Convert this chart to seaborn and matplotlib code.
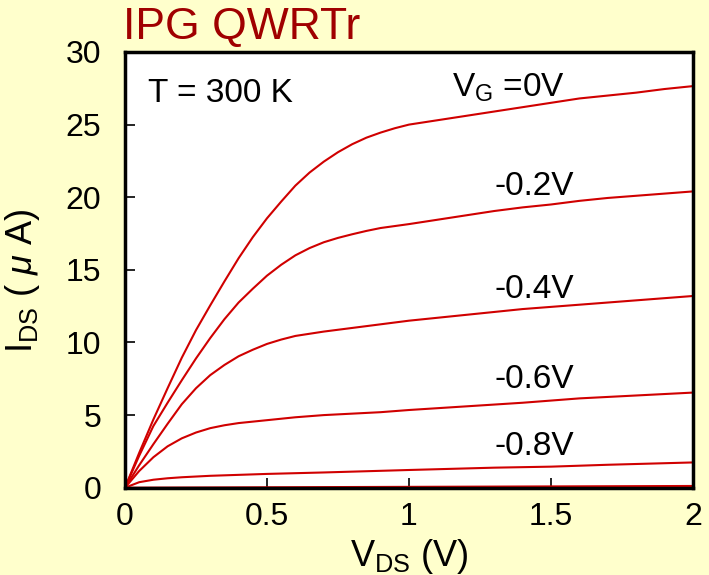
import matplotlib
matplotlib.use("Agg")
import matplotlib.pyplot as plt
import matplotlib.ticker as mticker
import pandas as pd
import seaborn as sns

# I-V curves (VDS in V, IDS in uA)
vds_0 = [0, 0.05, 0.1, 0.15, 0.2, 0.25, 0.3, 0.35, 0.4, 0.45, 0.5, 0.55, 0.6, 0.65, 0.7,
         0.75, 0.8, 0.85, 0.9, 0.95, 1.0, 1.1, 1.2, 1.3, 1.4, 1.5, 1.6, 1.7, 1.8, 1.9, 2.0]
ids_0 = [0, 2.4, 4.7, 6.85, 8.95, 10.85, 12.55, 14.2, 15.8, 17.25, 18.55, 19.7, 20.8, 21.7, 22.45,
         23.1, 23.65, 24.1, 24.45, 24.75, 25.0, 25.3, 25.6, 25.9, 26.2, 26.5, 26.8, 27.0, 27.2, 27.45, 27.65]

vds_02 = [0, 0.05, 0.1, 0.15, 0.2, 0.25, 0.3, 0.35, 0.4, 0.45, 0.5, 0.55, 0.6, 0.65, 0.7,
          0.75, 0.8, 0.85, 0.9, 1.0, 1.1, 1.2, 1.3, 1.4, 1.5, 1.6, 1.7, 1.8, 1.9, 2.0]
ids_02 = [0, 2.2, 4.25, 5.85, 7.4, 8.9, 10.3, 11.6, 12.75, 13.7, 14.6, 15.35, 16.0, 16.5, 16.9,
          17.2, 17.45, 17.68, 17.88, 18.15, 18.45, 18.75, 19.05, 19.3, 19.5, 19.75, 19.95, 20.1, 20.25, 20.4]

vds_04 = [0, 0.05, 0.1, 0.15, 0.2, 0.25, 0.3, 0.35, 0.4, 0.45, 0.5, 0.55, 0.6, 0.65, 0.7,
          0.8, 0.9, 1.0, 1.2, 1.4, 1.6, 1.8, 2.0]
ids_04 = [0, 1.55, 3.0, 4.4, 5.75, 6.85, 7.75, 8.45, 9.05, 9.5, 9.9, 10.2, 10.45, 10.6, 10.75,
          11.0, 11.25, 11.5, 11.9, 12.3, 12.6, 12.9, 13.2]

vds_06 = [0, 0.05, 0.1, 0.15, 0.2, 0.25, 0.3, 0.35, 0.4, 0.5, 0.6, 0.7, 0.8, 0.9, 1.0,
          1.2, 1.4, 1.6, 1.8, 2.0]
ids_06 = [0, 1.15, 2.1, 2.85, 3.4, 3.8, 4.1, 4.3, 4.45, 4.65, 4.85, 5.0, 5.1, 5.2, 5.35,
          5.6, 5.85, 6.15, 6.35, 6.55]

vds_08 = [0, 0.05, 0.1, 0.15, 0.2, 0.3, 0.5, 0.7, 1.0, 1.3, 1.5, 1.7, 2.0]
ids_08 = [0, 0.38, 0.55, 0.65, 0.72, 0.82, 0.95, 1.05, 1.22, 1.38, 1.45, 1.58, 1.74]

vds_10 = [0, 0.5, 1.0, 1.5, 2.0]
ids_10 = [0, 0.03, 0.06, 0.09, 0.12]

curve_names = ["0V", "-0.2V", "-0.4V", "-0.6V", "-0.8V", "-1.0V"]
curve_labels = ["V$_\\mathrm{G}$ =0V", "-0.2V", "-0.4V", "-0.6V", "-0.8V"]
label_x = [1.15, 1.30, 1.30, 1.30, 1.30]
label_y = [26.9, 20.13, 13.03, 6.84, 2.25]

x_ticks = [0, 0.5, 1, 1.5, 2]
y_ticks = [0, 5, 10, 15, 20, 25, 30]

curves = [(vds_0, ids_0), (vds_02, ids_02), (vds_04, ids_04),
          (vds_06, ids_06), (vds_08, ids_08), (vds_10, ids_10)]
frames = []
for name, (v, i) in zip(curve_names, curves):
    frames.append(pd.DataFrame({"VDS": v, "IDS": i, "VG": name}))
df = pd.concat(frames, ignore_index=True)

sns.set_style("ticks")
plt.rcParams["font.family"] = ["Liberation Sans", "DejaVu Sans"]
plt.rcParams["mathtext.fontset"] = "custom"
plt.rcParams["mathtext.rm"] = "Liberation Sans"
plt.rcParams["mathtext.it"] = "Liberation Sans:italic"
plt.rcParams["text.color"] = "black"
plt.rcParams["axes.labelcolor"] = "black"

red = "#D00000"
fig = plt.figure(figsize=(7.09, 5.75), dpi=100, facecolor="#FFFFCC")
ax = fig.add_axes([0.1763, 0.1518, 0.8011, 0.7578])
ax.set_facecolor("white")

sns.lineplot(data=df, x="VDS", y="IDS", hue="VG", palette=[red] * len(curve_names),
             estimator=None, sort=False, legend=False, linewidth=1.5, ax=ax)

ax.set_xlim(0, 2)
ax.set_ylim(0, 30)
ax.set_xticks(x_ticks)
ax.set_yticks(y_ticks)
ax.xaxis.set_major_formatter(mticker.FuncFormatter(lambda v, p: "%g" % v))
ax.tick_params(axis="both", direction="in", length=7.5, width=1.2, labelsize=23,
               colors="black", labelcolor="black", top=False, right=False)
ax.tick_params(axis="x", pad=10)
ax.tick_params(axis="y", pad=17)
for s in ax.spines.values():
    s.set_visible(True)
    s.set_linewidth(2.5)
    s.set_color("black")

ax.set_xlabel("V$_\\mathrm{DS}$ (V)", fontsize=26, color="black")
ax.set_ylabel("I$_\\mathrm{DS}$ ( $\\mu$ A)", fontsize=26, color="black")
ax.xaxis.set_label_coords(0.5, -0.114)
ax.yaxis.set_label_coords(-0.146, 0.475)

ax.text(0.08, 26.53, "T = 300 K", fontsize=24, va="baseline", ha="left")
for lab, lx, ly in zip(curve_labels, label_x, label_y):
    ax.text(lx, ly, lab, fontsize=24, va="baseline", ha="left")

fig.text(123 / 709, 1 - 39 / 575, "IPG QWRTr", fontsize=32, color="#A00000",
         va="baseline", ha="left")

fig.savefig("out.png", dpi=100, facecolor=fig.get_facecolor())
